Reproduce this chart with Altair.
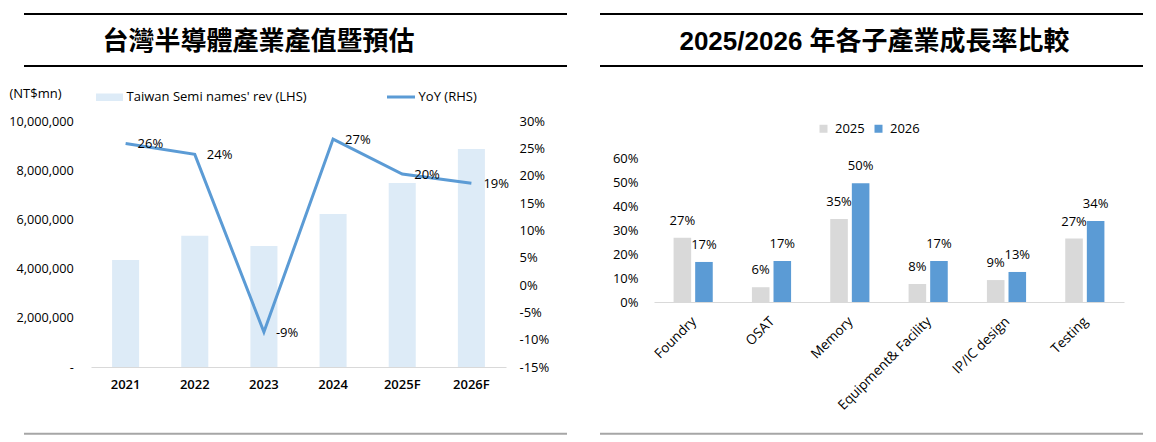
import altair as alt
import pandas as pd

# ---------------- data ----------------
years = ["2021", "2022", "2023", "2024", "2025F", "2026F"]
revenue = [4350000, 5340000, 4920000, 6220000, 7480000, 8860000]   # NT$mn (LHS)
yoy = [25.9, 23.9, -8.6, 26.7, 20.3, 18.6]                            # % (RHS)
rev_ticks = [0, 2000000, 4000000, 6000000, 8000000, 10000000]
yoy_ticks = [-15, -10, -5, 0, 5, 10, 15, 20, 25, 30]

sectors = ["Foundry", "OSAT", "Memory", "Equipment& Facility", "IP/IC design", "Testing"]
growth_2025 = [27.0, 6.2, 34.8, 7.6, 9.2, 26.6]
growth_2026 = [16.8, 17.2, 49.8, 17.2, 12.6, 34.0]
series_years = ["2025", "2026"]
growth_ticks = [0, 10, 20, 30, 40, 50, 60]

title_left = "台灣半導體產業產值暨預估"
title_right = "2025/2026 年各子產業成長率比較"
legend_rev = "Taiwan Semi names' rev (LHS)"
legend_yoy = "YoY (RHS)"
unit_label = "(NT$mn)"

df_left = pd.DataFrame({"year": years, "rev": revenue, "yoy": yoy})
rows = []
for s, a, b in zip(sectors, growth_2025, growth_2026):
    rows.append({"sector": s, "series": series_years[0], "val": a})
    rows.append({"sector": s, "series": series_years[1], "val": b})
df_right = pd.DataFrame(rows)

FONT = "Open Sans"
BLACK = "#000000"
LIGHT = "#DDEBF7"
BLUE = "#5B9BD5"
GRAY = "#D9D9D9"

W1, H1 = 415, 246
W2, H2 = 470, 181

deco = alt.Chart(alt.Data(values=[{}]))

def frame(x1, x2, title, title_x, title_font):
    top = deco.mark_rule(color=BLACK, strokeWidth=2.2).encode(
        x=alt.value(x1), x2=alt.value(x2), y=alt.value(-107))
    mid = deco.mark_rule(color=BLACK, strokeWidth=2.2).encode(
        x=alt.value(x1), x2=alt.value(x2), y=alt.value(-55))
    bot = deco.mark_rule(color="#A6A6A6", strokeWidth=2).encode(
        x=alt.value(x1), x2=alt.value(x2), y=alt.value(312.7))
    ttl = deco.mark_text(text=title, font=title_font, fontSize=26, fontWeight="bold",
                         color=BLACK, align="center", baseline="middle").encode(
        x=alt.value(title_x), y=alt.value(-79.3))
    return [top, mid, bot, ttl]

# ---------------- left panel ----------------
x_left = alt.X("year:N", sort=years, title=None,
               scale=alt.Scale(paddingInner=0.609, paddingOuter=0.305),
               axis=alt.Axis(labelAngle=0, labelFontSize=13, labelFontWeight=600,
                             labelColor=BLACK, labelFont=FONT, ticks=False, tickSize=0,
                             domainColor=GRAY, domainWidth=1, labelPadding=11))

bars = alt.Chart(df_left).mark_bar(color=LIGHT).encode(
    x=x_left,
    y=alt.Y("rev:Q", scale=alt.Scale(domain=[0, 10000000], nice=False),
            axis=alt.Axis(values=rev_ticks, grid=False, domain=False, ticks=False, tickSize=0,
                          labelPadding=17.7, labelFontSize=12.7, labelColor=BLACK, labelFont=FONT,
                          labelExpr="datum.value == 0 ? '-\u00a0\u00a0' : format(datum.value, ',')",
                          title=unit_label, titleAngle=0, titleAlign="right",
                          titleBaseline="middle", titleX=-30, titleY=-28,
                          titleFontWeight="normal", titleFontSize=13, titleColor=BLACK,
                          titleFont=FONT)),
)

yoy_axis = alt.Axis(orient="right", values=yoy_ticks, grid=False, domain=False, ticks=False,
                    tickSize=0, labelPadding=13, labelFontSize=13, labelColor=BLACK,
                    labelFont=FONT, labelExpr="datum.value + '%'", title=None)

line = alt.Chart(df_left).mark_line(color=BLUE, strokeWidth=3).encode(
    x=alt.X("year:N", sort=years),
    y=alt.Y("yoy:Q", scale=alt.Scale(domain=[-15, 30], nice=False), axis=yoy_axis),
)
line_lbl = alt.Chart(df_left).transform_calculate(
    label="round(datum.yoy) + '%'"
).mark_text(align="left", baseline="middle", dx=12, dy=0.5, fontSize=13,
            font=FONT, color=BLACK).encode(
    x=alt.X("year:N", sort=years),
    y=alt.Y("yoy:Q", scale=alt.Scale(domain=[-15, 30], nice=False), axis=yoy_axis),
    text="label:N",
)

leg_rect = deco.mark_rect(color=LIGHT).encode(
    x=alt.value(5), x2=alt.value(32), y=alt.value(-27.5), y2=alt.value(-20))
leg_rect_t = deco.mark_text(text=legend_rev, align="left", baseline="middle", fontSize=13,
                            font=FONT, color=BLACK).encode(x=alt.value(35.6), y=alt.value(-24))
leg_line = deco.mark_rule(color=BLUE, strokeWidth=3).encode(
    x=alt.value(296), x2=alt.value(324), y=alt.value(-24))
leg_line_t = deco.mark_text(text=legend_yoy, align="left", baseline="middle", fontSize=13,
                            font=FONT, color=BLACK).encode(x=alt.value(327.6), y=alt.value(-24))
anchor = deco.mark_rect(opacity=0).encode(
    x=alt.value(-83), x2=alt.value(-80), y=alt.value(-113), y2=alt.value(-110))

left_y = alt.layer(bars, alt.layer(line, line_lbl)).resolve_scale(y="independent")
left = alt.layer(
    left_y,
    leg_rect, leg_rect_t, leg_line, leg_line_t, anchor,
    *frame(-67, 476, title_left, 167.4, "Noto Sans CJK TC"),
).properties(width=W1, height=H1)

# ---------------- right panel ----------------
x_right = alt.X("sector:N", sort=sectors, title=None,
                scale=alt.Scale(paddingInner=0.5, paddingOuter=0.25),
                axis=alt.Axis(labelAngle=-45, labelFontSize=13.5, labelColor=BLACK, labelFont=FONT,
                              ticks=False, tickSize=0, domainColor=GRAY, domainWidth=1,
                              labelPadding=12, labelOffset=-4))
y_right = alt.Y("val:Q", scale=alt.Scale(domain=[0, 75.94], nice=False),
                axis=alt.Axis(values=growth_ticks, grid=False, domain=False, ticks=False,
                              tickSize=0, labelPadding=16, labelFontSize=13, labelColor=BLACK,
                              labelFont=FONT, labelExpr="datum.value + '%'", title=None))
xoff = alt.XOffset("series:N", sort=series_years, scale=alt.Scale(paddingInner=0.186))

gbars = alt.Chart(df_right).mark_bar().encode(
    x=x_right, xOffset=xoff, y=y_right,
    color=alt.Color("series:N", sort=series_years,
                    scale=alt.Scale(domain=series_years, range=[GRAY, BLUE]),
                    legend=alt.Legend(orient="none", legendX=726, legendY=1,
                                      direction="horizontal", title=None, symbolType="square",
                                      symbolSize=64, symbolStrokeWidth=0, labelFontSize=13,
                                      labelFont=FONT, labelColor=BLACK, labelOffset=5,
                                      columnPadding=7)),
)
glbl = alt.Chart(df_right).transform_calculate(
    label="round(datum.val) + '%'"
).mark_text(baseline="middle", dy=-17, fontSize=13, font=FONT, color=BLACK).encode(
    x=x_right, xOffset=xoff, y=y_right, text="label:N")

right = alt.layer(
    gbars, glbl,
    *frame(-54, 489, title_right, 220.5, "Liberation Sans, Noto Sans CJK TC"),
).properties(width=W2, height=H2)

chart = alt.hconcat(left, right, spacing=148, bounds="flush").properties(
    padding=0
).configure(font=FONT).configure_view(strokeWidth=0, stroke=None)

chart.save("out.html", embed_options={"renderer": "svg", "actions": False})
